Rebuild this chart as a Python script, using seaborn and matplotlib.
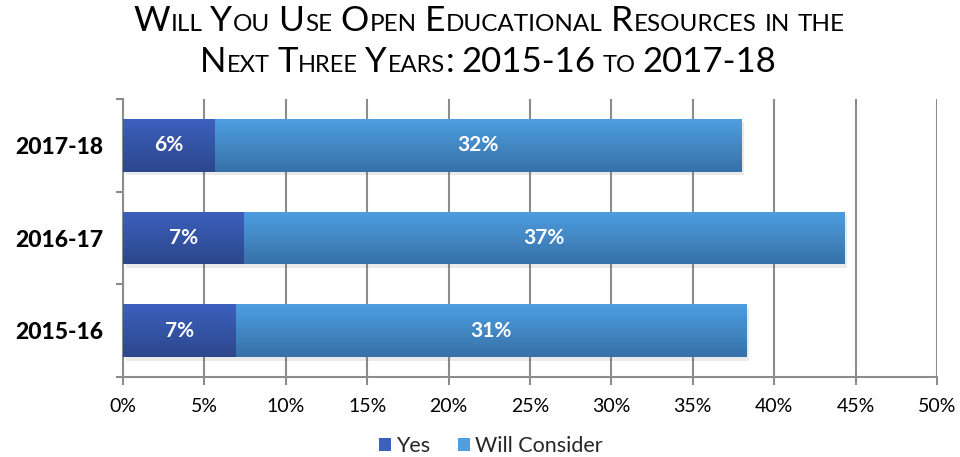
import re

import matplotlib
matplotlib.use("Agg")
import matplotlib.pyplot as plt
import numpy as np
import pandas as pd
import seaborn as sns
from matplotlib import patheffects as pe
from matplotlib.colors import LinearSegmentedColormap
from matplotlib.patches import Patch

# Survey results (% of respondents)
years = ["2017-18", "2016-17", "2015-16"]
yes = [5.6, 7.4, 6.9]
will_consider = [32.4, 36.9, 31.4]
series = ["Yes", "Will Consider"]
x_ticks = [0, 5, 10, 15, 20, 25, 30, 35, 40, 45, 50]

title_lines = [
    "Will You Use Open Educational Resources in the",
    "Next Three Years: 2015-16 to 2017-18",
]

FONT = "Lato"
GRID = "#8c8c8c"
DARK_TOP, DARK_BOT = "#3c60bd", "#2c478c"
LIGHT_TOP, LIGHT_BOT = "#4e9ee0", "#3771a8"

sns.set_theme(style="white")
plt.rcParams["font.family"] = [FONT, "DejaVu Sans"]

W, H = 960, 457
fig = plt.figure(figsize=(W / 100, H / 100), dpi=100)
ax = fig.add_axes([123 / W, 80 / H, 814 / W, 278 / H])

df = pd.DataFrame({
    "year": years,
    "yes": yes,
    "total": np.add(yes, will_consider),
})

# Stacked bars: full length (Will Consider) first, the Yes segment over it
sns.barplot(data=df, y="year", x="total", color=LIGHT_TOP, saturation=1,
            width=0.57, ax=ax, zorder=3, linewidth=0)
n = len(years)
sns.barplot(data=df, y="year", x="yes", color=DARK_TOP, saturation=1,
            width=0.57, ax=ax, zorder=3, linewidth=0)

xlim, ylim = (0, 50), ax.get_ylim()

# Vertical gradient fill + soft drop shadow on each bar
cmaps = [LinearSegmentedColormap.from_list("wc", [LIGHT_TOP, LIGHT_BOT]),
         LinearSegmentedColormap.from_list("yes", [DARK_TOP, DARK_BOT])]
grad = np.linspace(0, 1, 64).reshape(-1, 1)
for i, p in enumerate(ax.patches):
    cmap = cmaps[0] if i < n else cmaps[1]
    if i < n:
        p.set_path_effects([pe.SimplePatchShadow(offset=(2, -2.5), alpha=0.12,
                                                 shadow_rgbFace="#555555"),
                            pe.Normal()])
    x0, y0, w, h = p.get_x(), p.get_y(), p.get_width(), p.get_height()
    im = ax.imshow(grad, cmap=cmap, aspect="auto", origin="upper",
                   extent=[x0, x0 + w, y0 + h, y0], zorder=3.2 + 0.1 * (i >= n),
                   interpolation="bilinear")
    im.set_clip_path(p)

ax.set_xlim(*xlim)
ax.set_ylim(*ylim)

# Value labels, centred in each segment
for i in range(n):
    ax.text(yes[i] / 2, i, f"{yes[i]:.0f}%", color="white", ha="center",
            va="center", fontsize=15, fontweight="bold", zorder=5)
    ax.text(yes[i] + will_consider[i] / 2, i, f"{will_consider[i]:.0f}%",
            color="white", ha="center", va="center", fontsize=15,
            fontweight="bold", zorder=5)

# Axes styling
ax.set_xlabel("")
ax.set_ylabel("")
ax.set_xticks(x_ticks)
ax.set_xticklabels([f"{t}%" for t in x_ticks], fontsize=14, color="black")
ax.xaxis.grid(True, color=GRID, linewidth=1.5)
ax.yaxis.grid(False)
ax.set_axisbelow(True)
for side in ("top", "right"):
    ax.spines[side].set_visible(False)
for side in ("left", "bottom"):
    ax.spines[side].set_color(GRID)
    ax.spines[side].set_linewidth(1.5)
ax.tick_params(axis="x", which="major", bottom=True, length=6, width=1.5,
               color=GRID, direction="out", pad=9)
ax.tick_params(axis="y", which="major", left=False, length=0, pad=14)
ax.set_yticks(np.arange(-0.5, n, 1.0), minor=True)
ax.tick_params(axis="y", which="minor", left=True, length=5, width=1.5,
               color=GRID, direction="out")
for lbl in ax.get_yticklabels():
    lbl.set_fontsize(16.5)
    lbl.set_fontweight("black")
    lbl.set_color("black")

# Legend
handles = [Patch(facecolor=DARK_TOP, edgecolor="none"),
           Patch(facecolor=LIGHT_TOP, edgecolor="none")]
fig.legend(handles, series, loc="center", bbox_to_anchor=(491 / W, 1 - 446 / H),
           ncol=2, frameon=False, fontsize=15.5, handlelength=0.55,
           handleheight=0.55, handletextpad=0.25, columnspacing=1.3)


def small_caps_line(text, baseline_px, center_px, big, small, gap_px):
    """Draw one line in small caps: capitals/digits at full size,
    lowercase letters as reduced capitals."""
    renderer = fig.canvas.get_renderer()
    pieces = []
    words = text.split(" ")
    for wi, word in enumerate(words):
        for run in re.findall(r"[a-z]+|[^a-z]+", word):
            size = small if run.islower() else big
            pieces.append([run.upper(), size, 0.8])
        if wi < len(words) - 1:
            pieces[-1][2] = gap_px
    texts = [fig.text(0, 1 - baseline_px / H, s, fontsize=sz, ha="left",
                      va="baseline", color="black") for s, sz, _ in pieces]
    widths = [t.get_window_extent(renderer).width for t in texts]
    gaps = [g for _, _, g in pieces]
    total = sum(widths) + sum(gaps[:-1])
    x = center_px - total / 2
    for t, w, g in zip(texts, widths, gaps):
        t.set_x(x / W)
        x += w + g


small_caps_line(title_lines[0], 31, 489, 25.5, 17.5, 8)
small_caps_line(title_lines[1], 72, 488, 25, 17, 7)

fig.savefig("out.png", dpi=100)
